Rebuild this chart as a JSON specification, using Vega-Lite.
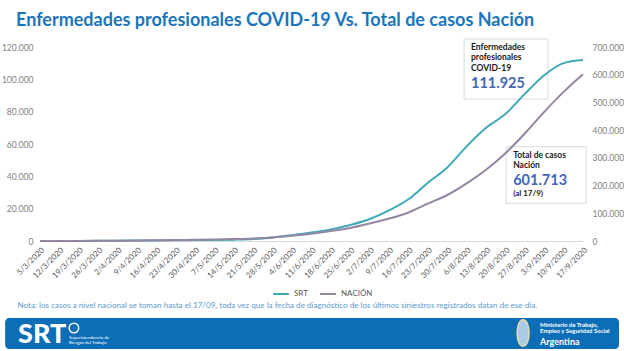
{
  "$schema": "https://vega.github.io/schema/vega-lite/v6.json",
  "width": 543,
  "height": 194,
  "autosize": {"type": "none"},
  "padding": {"left": 40, "top": 47, "right": 41, "bottom": 110},
  "background": "white",
  "config": {
    "locale": {"number": {"decimal": ",", "thousands": ".", "grouping": [3], "currency": ["$", ""]}},
    "view": {"stroke": null},
    "font": "Lato",
    "axis": {"labelOverlap": false, "labelFlush": false}
  },
  "title": {
    "text": "Enfermedades profesionales COVID-19 Vs. Total de casos Nación",
    "anchor": "start",
    "frame": "group",
    "font": "Lato",
    "fontSize": 18,
    "fontWeight": "bold",
    "color": "#1b75bc",
    "dx": -24,
    "offset": 8
  },
  "datasets": {
    "casos": [
      {"fecha": "2020/03/05", "serie": "SRT", "casos": 0},
      {"fecha": "2020/03/12", "serie": "SRT", "casos": 10},
      {"fecha": "2020/03/19", "serie": "SRT", "casos": 40},
      {"fecha": "2020/03/26", "serie": "SRT", "casos": 110},
      {"fecha": "2020/04/02", "serie": "SRT", "casos": 200},
      {"fecha": "2020/04/09", "serie": "SRT", "casos": 280},
      {"fecha": "2020/04/16", "serie": "SRT", "casos": 360},
      {"fecha": "2020/04/23", "serie": "SRT", "casos": 450},
      {"fecha": "2020/04/30", "serie": "SRT", "casos": 550},
      {"fecha": "2020/05/07", "serie": "SRT", "casos": 650},
      {"fecha": "2020/05/14", "serie": "SRT", "casos": 850},
      {"fecha": "2020/05/21", "serie": "SRT", "casos": 1250},
      {"fecha": "2020/05/28", "serie": "SRT", "casos": 2200},
      {"fecha": "2020/06/04", "serie": "SRT", "casos": 3600},
      {"fecha": "2020/06/11", "serie": "SRT", "casos": 5200},
      {"fecha": "2020/06/18", "serie": "SRT", "casos": 7200},
      {"fecha": "2020/06/25", "serie": "SRT", "casos": 9900},
      {"fecha": "2020/07/02", "serie": "SRT", "casos": 13600},
      {"fecha": "2020/07/09", "serie": "SRT", "casos": 19000},
      {"fecha": "2020/07/16", "serie": "SRT", "casos": 25800},
      {"fecha": "2020/07/23", "serie": "SRT", "casos": 36000},
      {"fecha": "2020/07/30", "serie": "SRT", "casos": 45500},
      {"fecha": "2020/08/06", "serie": "SRT", "casos": 58500},
      {"fecha": "2020/08/13", "serie": "SRT", "casos": 70000},
      {"fecha": "2020/08/20", "serie": "SRT", "casos": 78500},
      {"fecha": "2020/08/27", "serie": "SRT", "casos": 91000},
      {"fecha": "2020/09/03", "serie": "SRT", "casos": 102500},
      {"fecha": "2020/09/10", "serie": "SRT", "casos": 110000},
      {"fecha": "2020/09/17", "serie": "SRT", "casos": 111925},
      {"fecha": "2020/03/05", "serie": "NACIÓN", "casos": 1},
      {"fecha": "2020/03/12", "serie": "NACIÓN", "casos": 30},
      {"fecha": "2020/03/19", "serie": "NACIÓN", "casos": 130},
      {"fecha": "2020/03/26", "serie": "NACIÓN", "casos": 500},
      {"fecha": "2020/04/02", "serie": "NACIÓN", "casos": 1200},
      {"fecha": "2020/04/09", "serie": "NACIÓN", "casos": 1900},
      {"fecha": "2020/04/16", "serie": "NACIÓN", "casos": 2600},
      {"fecha": "2020/04/23", "serie": "NACIÓN", "casos": 3400},
      {"fecha": "2020/04/30", "serie": "NACIÓN", "casos": 4400},
      {"fecha": "2020/05/07", "serie": "NACIÓN", "casos": 5600},
      {"fecha": "2020/05/14", "serie": "NACIÓN", "casos": 7100},
      {"fecha": "2020/05/21", "serie": "NACIÓN", "casos": 9300},
      {"fecha": "2020/05/28", "serie": "NACIÓN", "casos": 13000},
      {"fecha": "2020/06/04", "serie": "NACIÓN", "casos": 19000},
      {"fecha": "2020/06/11", "serie": "NACIÓN", "casos": 26500},
      {"fecha": "2020/06/18", "serie": "NACIÓN", "casos": 36000},
      {"fecha": "2020/06/25", "serie": "NACIÓN", "casos": 47000},
      {"fecha": "2020/07/02", "serie": "NACIÓN", "casos": 63000},
      {"fecha": "2020/07/09", "serie": "NACIÓN", "casos": 81000},
      {"fecha": "2020/07/16", "serie": "NACIÓN", "casos": 103000},
      {"fecha": "2020/07/23", "serie": "NACIÓN", "casos": 135000},
      {"fecha": "2020/07/30", "serie": "NACIÓN", "casos": 166000},
      {"fecha": "2020/08/06", "serie": "NACIÓN", "casos": 208000},
      {"fecha": "2020/08/13", "serie": "NACIÓN", "casos": 257000},
      {"fecha": "2020/08/20", "serie": "NACIÓN", "casos": 317000},
      {"fecha": "2020/08/27", "serie": "NACIÓN", "casos": 388000},
      {"fecha": "2020/09/03", "serie": "NACIÓN", "casos": 466000},
      {"fecha": "2020/09/10", "serie": "NACIÓN", "casos": 538000},
      {"fecha": "2020/09/17", "serie": "NACIÓN", "casos": 601713}
    ]
  },
  "layer": [
    {
      "layer": [
        {
          "data": {"values": [{}]},
          "mark": {"type": "rect", "fill": "white", "stroke": "#d5dbe6", "strokeWidth": 1},
          "encoding": {
            "x": {"datum": {"year": 2020, "month": 8, "date": 5, "hours": 2}, "type": "temporal"},
            "x2": {"datum": {"year": 2020, "month": 9, "date": 4, "hours": 10}},
            "y": {"datum": 124950, "type": "quantitative"},
            "y2": {"datum": 87835}
          }
        },
        {
          "data": {"values": [{}]},
          "mark": {"type": "rect", "fill": "white", "stroke": "#d5dbe6", "strokeWidth": 1},
          "encoding": {
            "x": {"datum": {"year": 2020, "month": 8, "date": 20, "hours": 5}, "type": "temporal"},
            "x2": {"datum": {"year": 2020, "month": 9, "date": 18, "hours": 3}},
            "y": {"datum": 58330, "type": "quantitative"},
            "y2": {"datum": 23320}
          }
        },
        {
          "data": {"values": [{}]},
          "mark": {"type": "text", "align": "left", "baseline": "alphabetic", "fontSize": 8.5, "fontWeight": "bold", "color": "#1a1a1a", "lineHeight": 10.5},
          "encoding": {
            "x": {"datum": {"year": 2020, "month": 8, "date": 7, "hours": 14}, "type": "temporal"},
            "y": {"datum": 118145, "type": "quantitative"},
            "text": {"value": ["Enfermedades", "profesionales", "COVID-19"]}
          }
        },
        {
          "data": {"values": [{}]},
          "mark": {"type": "text", "align": "left", "baseline": "alphabetic", "fontSize": 14.5, "fontWeight": "bold", "color": "#4466b8"},
          "encoding": {
            "x": {"datum": {"year": 2020, "month": 8, "date": 7, "hours": 14}, "type": "temporal"},
            "y": {"datum": 94454, "type": "quantitative"},
            "text": {"value": "111.925"}
          }
        },
        {
          "data": {"values": [{}]},
          "mark": {"type": "text", "align": "left", "baseline": "alphabetic", "fontSize": 8.5, "fontWeight": "bold", "color": "#1a1a1a", "lineHeight": 10},
          "encoding": {
            "x": {"datum": {"year": 2020, "month": 8, "date": 22, "hours": 19}, "type": "temporal"},
            "y": {"datum": 51155, "type": "quantitative"},
            "text": {"value": ["Total de casos", "Nación"]}
          }
        },
        {
          "data": {"values": [{}]},
          "mark": {"type": "text", "align": "left", "baseline": "alphabetic", "fontSize": 14.5, "fontWeight": "bold", "color": "#4466b8"},
          "encoding": {
            "x": {"datum": {"year": 2020, "month": 8, "date": 22, "hours": 19}, "type": "temporal"},
            "y": {"datum": 34640, "type": "quantitative"},
            "text": {"value": "601.713"}
          }
        },
        {
          "data": {"values": [{}]},
          "mark": {"type": "text", "align": "left", "baseline": "alphabetic", "fontSize": 8, "fontWeight": "bold", "color": "#1a1a1a"},
          "encoding": {
            "x": {"datum": {"year": 2020, "month": 8, "date": 22, "hours": 19}, "type": "temporal"},
            "y": {"datum": 27835, "type": "quantitative"},
            "text": {"value": "(al 17/9)"}
          }
        },
        {
          "data": {"values": [{}]},
          "mark": {"type": "rect", "color": "#0b6eb7", "cornerRadius": 4},
          "encoding": {
            "x": {"datum": {"year": 2020, "month": 2, "date": 21, "hours": 10}, "type": "temporal"},
            "x2": {"datum": {"year": 2020, "month": 9, "date": 30}},
            "y": {"datum": -47629, "type": "quantitative"},
            "y2": {"datum": -66804}
          }
        },
        {
          "data": {"values": [{}]},
          "mark": {"type": "text", "align": "left", "baseline": "alphabetic", "fontSize": 27, "fontWeight": 900, "color": "white", "letterSpacing": -2},
          "encoding": {
            "x": {"datum": {"year": 2020, "month": 2, "date": 26, "hours": 2}, "type": "temporal"},
            "y": {"datum": -63093, "type": "quantitative"},
            "text": {"value": "SRT"}
          }
        },
        {
          "data": {"values": [{}]},
          "mark": {"type": "point", "filled": true, "color": "#0b6eb7", "stroke": "white", "strokeWidth": 1.5, "size": 90, "opacity": 1},
          "encoding": {
            "x": {"datum": {"year": 2020, "month": 3, "date": 17, "hours": 6}, "type": "temporal"},
            "y": {"datum": -53815, "type": "quantitative"}
          }
        },
        {
          "data": {"values": [{}]},
          "mark": {"type": "text", "align": "left", "baseline": "alphabetic", "fontSize": 4.5, "color": "white", "lineHeight": 5},
          "encoding": {
            "x": {"datum": {"year": 2020, "month": 3, "date": 15, "hours": 11}, "type": "temporal"},
            "y": {"datum": -60619, "type": "quantitative"},
            "text": {"value": ["Superintendencia de", "Riesgos del Trabajo"]}
          }
        },
        {
          "data": {"values": [{}]},
          "mark": {"type": "point", "filled": true, "color": "#a9cbe8", "stroke": "#e8d9a0", "strokeWidth": 1.5, "size": 700, "opacity": 1, "shape": "M0,-1C0.6,-1 0.6,1 0,1C-0.6,1 -0.6,-1 0,-1Z"},
          "encoding": {
            "x": {"datum": {"year": 2020, "month": 8, "date": 26, "hours": 9}, "type": "temporal"},
            "y": {"datum": -56908, "type": "quantitative"}
          }
        },
        {
          "data": {"values": [{}]},
          "mark": {"type": "text", "align": "left", "baseline": "alphabetic", "fontSize": 6, "fontWeight": "bold", "color": "white", "lineHeight": 6},
          "encoding": {
            "x": {"datum": {"year": 2020, "month": 9, "date": 1, "hours": 12}, "type": "temporal"},
            "y": {"datum": -53196, "type": "quantitative"},
            "text": {"value": ["Ministerio de Trabajo,", "Empleo y Seguridad Social"]}
          }
        },
        {
          "data": {"values": [{}]},
          "mark": {"type": "text", "align": "left", "baseline": "alphabetic", "fontSize": 9, "fontWeight": "bold", "color": "white"},
          "encoding": {
            "x": {"datum": {"year": 2020, "month": 9, "date": 1, "hours": 12}, "type": "temporal"},
            "y": {"datum": -64330, "type": "quantitative"},
            "text": {"value": "Argentina"}
          }
        },
        {
          "data": {"name": "casos"},
          "transform": [{"filter": "datum.serie === 'SRT'"}],
          "mark": {"type": "line", "strokeWidth": 2, "interpolate": "monotone"},
          "encoding": {
            "x": {
              "field": "fecha",
              "type": "temporal",
              "scale": {"domain": [{"year": 2020, "month": 3, "date": 5}, {"year": 2020, "month": 9, "date": 17}]},
              "axis": {
                "values": [
                  {"year": 2020, "month": 3, "date": 5}, {"year": 2020, "month": 3, "date": 12}, {"year": 2020, "month": 3, "date": 19}, {"year": 2020, "month": 3, "date": 26},
                  {"year": 2020, "month": 4, "date": 2}, {"year": 2020, "month": 4, "date": 9}, {"year": 2020, "month": 4, "date": 16}, {"year": 2020, "month": 4, "date": 23}, {"year": 2020, "month": 4, "date": 30},
                  {"year": 2020, "month": 5, "date": 7}, {"year": 2020, "month": 5, "date": 14}, {"year": 2020, "month": 5, "date": 21}, {"year": 2020, "month": 5, "date": 28},
                  {"year": 2020, "month": 6, "date": 4}, {"year": 2020, "month": 6, "date": 11}, {"year": 2020, "month": 6, "date": 18}, {"year": 2020, "month": 6, "date": 25},
                  {"year": 2020, "month": 7, "date": 2}, {"year": 2020, "month": 7, "date": 9}, {"year": 2020, "month": 7, "date": 16}, {"year": 2020, "month": 7, "date": 23}, {"year": 2020, "month": 7, "date": 30},
                  {"year": 2020, "month": 8, "date": 6}, {"year": 2020, "month": 8, "date": 13}, {"year": 2020, "month": 8, "date": 20}, {"year": 2020, "month": 8, "date": 27},
                  {"year": 2020, "month": 9, "date": 3}, {"year": 2020, "month": 9, "date": 10}, {"year": 2020, "month": 9, "date": 17}
                ],
                "tickCount": 40,
                "format": "%-d/%-m/%Y",
                "labelAngle": -45,
                "labelAlign": "right",
                "labelBaseline": "top",
                "labelFontSize": 8,
                "labelColor": "#595959",
                "labelPadding": 5,
                "labelOverlap": false,
                "labelFlush": false,
                "ticks": false,
                "grid": false,
                "domainColor": "#d9d9d9",
                "title": "Nota: los casos a nivel nacional se toman hasta el 17/09, toda vez que la fecha de diagnóstico de los últimos siniestros registrados datan de ese día.",
                "titleX": -23,
                "titleY": 66,
                "titleAnchor": null,
                "titleAlign": "left",
                "titleBaseline": "alphabetic",
                "titleFontSize": 8.1,
                "titleFontWeight": "normal",
                "titleColor": "#5b9bd5"
              }
            },
            "y": {
              "field": "casos",
              "type": "quantitative",
              "scale": {"domain": [0, 120000], "nice": false},
              "axis": {"orient": "left", "format": ",d", "values": [0, 20000, 40000, 60000, 80000, 100000, 120000], "tickCount": 10, "labelOverlap": false, "domain": false, "ticks": false, "grid": false, "title": null, "labelColor": "#7f7f7f", "labelFontSize": 8.5, "labelPadding": 7}
            },
            "color": {
              "field": "serie",
              "type": "nominal",
              "scale": {"domain": ["SRT", "NACIÓN"], "range": ["#3fa9b9", "#9486a2"]},
              "legend": {"orient": "none", "legendX": 232, "legendY": 238, "direction": "horizontal", "title": null, "symbolType": "stroke", "symbolStrokeWidth": 2, "symbolSize": 250, "labelFontSize": 8, "labelColor": "#595959", "columnPadding": 8, "padding": 0}
            }
          }
        }
      ]
    },
    {
      "data": {"name": "casos"},
      "transform": [{"filter": "datum.serie === 'NACIÓN'"}],
      "mark": {"type": "line", "strokeWidth": 2, "interpolate": "monotone"},
      "encoding": {
        "x": {"field": "fecha", "type": "temporal"},
        "y": {
          "field": "casos",
          "type": "quantitative",
          "scale": {"domain": [0, 700000], "nice": false},
          "axis": {"orient": "right", "format": ",d", "values": [0, 100000, 200000, 300000, 400000, 500000, 600000, 700000], "tickCount": 10, "labelOverlap": false, "domain": false, "ticks": false, "grid": false, "title": null, "labelColor": "#7f7f7f", "labelFontSize": 8.5, "labelPadding": 9}
        },
        "color": {"field": "serie", "type": "nominal"}
      }
    }
  ],
  "resolve": {"scale": {"y": "independent"}}
}
